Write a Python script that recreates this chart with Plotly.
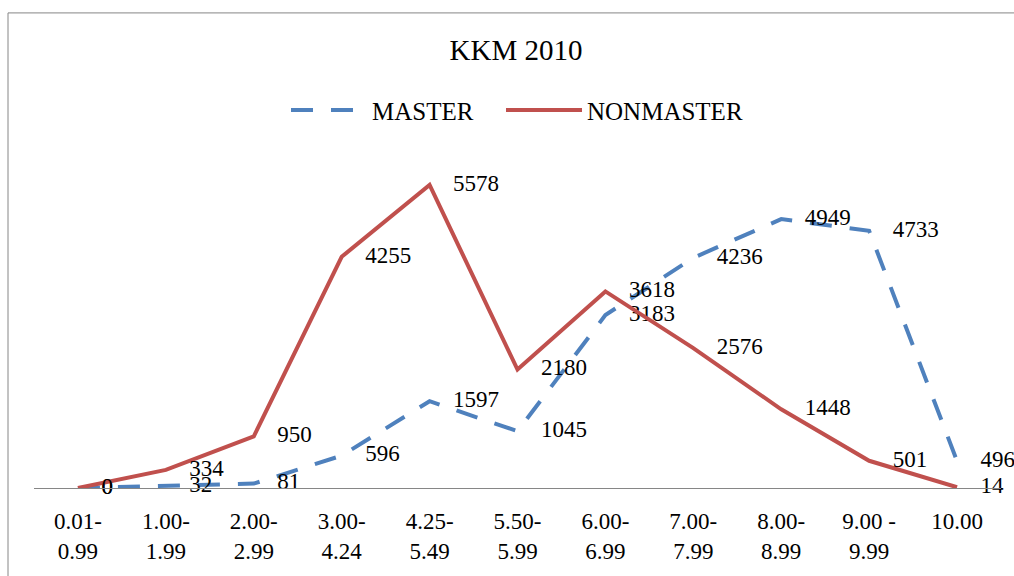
import plotly.graph_objects as go

categories = ["0.01-<br>0.99", "1.00-<br>1.99", "2.00-<br>2.99", "3.00-<br>4.24",
              "4.25-<br>5.49", "5.50-<br>5.99", "6.00-<br>6.99", "7.00-<br>7.99",
              "8.00-<br>8.99", "9.00 -<br>9.99", "10.00"]
master = [0, 32, 81, 596, 1597, 1045, 3183, 4236, 4949, 4733, 496]
nonmaster = [0, 334, 950, 4255, 5578, 2180, 3618, 2576, 1448, 501, 14]

FONT = "Liberation Serif, Times New Roman, DejaVu Serif, serif"
W, H = 1014, 576
L, R, T, B = 34, 13, 162, 86
pw, ph = W - L - R, H - T - B

def px_x(px):
    return (px - L) / pw

def px_y(py):
    return (H - B - py) / ph

fig = go.Figure()
fig.add_trace(go.Scatter(
    x=categories, y=master, name="MASTER",
    mode="lines+markers+text",
    line=dict(color="#4F81BD", width=4, dash="22px,18px"),
    marker=dict(size=36, color="rgba(0,0,0,0)"),
    text=[str(v) for v in master], textposition="middle right",
    textfont=dict(family=FONT, size=23, color="#000000"),
    cliponaxis=False, legend="legend",
))
fig.add_trace(go.Scatter(
    x=categories, y=nonmaster, name="NONMASTER",
    mode="lines+markers+text",
    line=dict(color="#C0504D", width=4),
    marker=dict(size=36, color="rgba(0,0,0,0)"),
    text=[str(v) for v in nonmaster], textposition="middle right",
    textfont=dict(family=FONT, size=23, color="#000000"),
    cliponaxis=False, legend="legend2",
))

legend_common = dict(orientation="h", yanchor="middle", y=px_y(110), xanchor="left",
                     font=dict(family=FONT, size=25, color="#000000"),
                     bgcolor="rgba(0,0,0,0)", itemwidth=76)

fig.update_layout(
    width=W, height=H,
    margin=dict(l=L, r=R, t=T, b=B),
    paper_bgcolor="white", plot_bgcolor="white",
    font=dict(family=FONT, color="#000000"),
    title=dict(text="KKM 2010", font=dict(family=FONT, size=29, color="#000000"),
               x=516 / W, xanchor="center", y=1 - 50 / H, yanchor="middle",
               xref="container", yref="container"),
    showlegend=True,
    legend=dict(x=px_x(286), **legend_common),
    legend2=dict(x=px_x(501), **legend_common),
    xaxis=dict(type="category", range=[-0.5, 10.5], showgrid=False, zeroline=False,
               showline=True, linecolor="#868686", linewidth=1,
               ticks="", tickfont=dict(family=FONT, size=23, color="#000000"),
               ticklabelstandoff=12),
    yaxis=dict(range=[0, 6000], visible=False, showgrid=False, zeroline=False),
    shapes=[dict(type="rect", xref="paper", yref="paper",
                 x0=px_x(8), x1=px_x(1030), y0=px_y(590), y1=px_y(12),
                 line=dict(color="#868686", width=1), fillcolor="rgba(0,0,0,0)",
                 layer="below")],
)

fig.write_html("out.html", config={"displayModeBar": False},
               post_script="document.body.style.margin='0';document.body.style.padding='0';")
